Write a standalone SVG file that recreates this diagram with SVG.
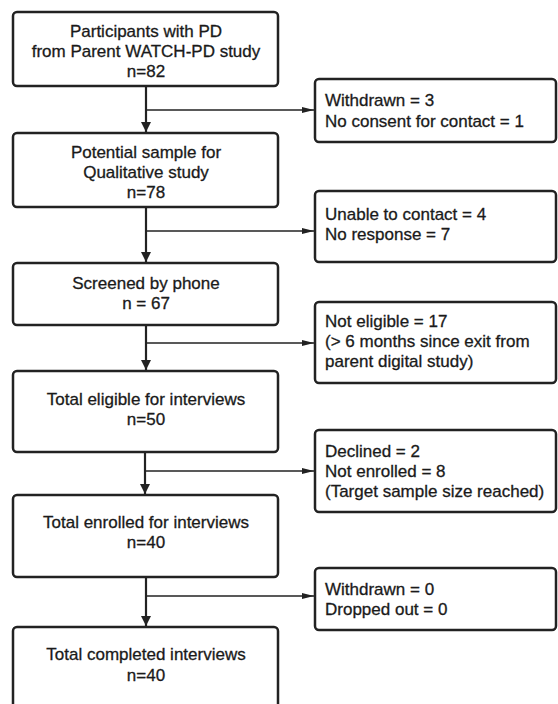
<svg xmlns="http://www.w3.org/2000/svg" width="558" height="704" viewBox="0 0 558 704">
<style>
.box{fill:#fff;stroke:#222;stroke-width:2.5}
.t{font-family:"Liberation Sans",Arial,sans-serif;font-size:17px;fill:#1a1a1a;stroke:#1a1a1a;stroke-width:0.3}
.c{text-anchor:middle}
.trunk{stroke:#222;stroke-width:2.2;fill:none}
.br{stroke:#222;stroke-width:1.5;fill:none}
</style>
<defs>
<marker id="av" markerWidth="10" markerHeight="12" refX="10" refY="6" orient="auto" markerUnits="userSpaceOnUse" viewBox="0 0 10 12">
<path d="M0,1 L10,6 L0,11 Z" fill="#222"/>
</marker>
<marker id="ah" markerWidth="12" markerHeight="8" refX="12" refY="4" orient="auto" markerUnits="userSpaceOnUse" viewBox="0 0 12 8">
<path d="M0,1 L12,4 L0,7 Z" fill="#222"/>
</marker>
</defs>
<g id="connectors">
<line class="trunk" x1="146" y1="87" x2="146" y2="132" marker-end="url(#av)"/>
<line class="br" x1="146" y1="110" x2="314" y2="110" marker-end="url(#ah)"/>
<line class="trunk" x1="146" y1="208" x2="146" y2="262" marker-end="url(#av)"/>
<line class="br" x1="146" y1="231" x2="314" y2="231" marker-end="url(#ah)"/>
<line class="trunk" x1="146" y1="326" x2="146" y2="370" marker-end="url(#av)"/>
<line class="br" x1="146" y1="343" x2="314" y2="343" marker-end="url(#ah)"/>
<line class="trunk" x1="145" y1="453" x2="145" y2="494" marker-end="url(#av)"/>
<line class="br" x1="145" y1="471" x2="314" y2="471" marker-end="url(#ah)"/>
<line class="trunk" x1="146" y1="578" x2="146" y2="626" marker-end="url(#av)"/>
<line class="br" x1="146" y1="596" x2="314" y2="596" marker-end="url(#ah)"/>
</g>
<g id="n1">
<rect class="box" x="13" y="12" width="265" height="74" rx="4"/>
<text class="t c" x="146" y="37">Participants with PD</text>
<text class="t c" x="146" y="57">from Parent WATCH-PD study</text>
<text class="t c" x="146" y="77">n=82</text>
</g>
<g id="n2">
<rect class="box" x="13" y="133" width="265" height="74" rx="4"/>
<text class="t c" x="146" y="158">Potential sample for</text>
<text class="t c" x="146" y="178">Qualitative study</text>
<text class="t c" x="146" y="198">n=78</text>
</g>
<g id="n3">
<rect class="box" x="13" y="263" width="265" height="62" rx="4"/>
<text class="t c" x="146" y="289">Screened by phone</text>
<text class="t c" x="146" y="309">n = 67</text>
</g>
<g id="n4">
<rect class="box" x="13" y="371" width="265" height="81" rx="4"/>
<text class="t c" x="146" y="405">Total eligible for interviews</text>
<text class="t c" x="146" y="425">n=50</text>
</g>
<g id="n5">
<rect class="box" x="13" y="495" width="265" height="82" rx="4"/>
<text class="t c" x="146" y="528">Total enrolled for interviews</text>
<text class="t c" x="146" y="548">n=40</text>
</g>
<g id="n6">
<rect class="box" x="13" y="627" width="265" height="82" rx="4"/>
<text class="t c" x="146" y="660">Total completed interviews</text>
<text class="t c" x="146" y="681">n=40</text>
</g>
<g id="s1">
<rect class="box" x="315" y="79" width="241" height="63" rx="4"/>
<text class="t" x="325" y="106">Withdrawn = 3</text>
<text class="t" x="325" y="127">No consent for contact = 1</text>
</g>
<g id="s2">
<rect class="box" x="315" y="191" width="241" height="71" rx="4"/>
<text class="t" x="325" y="220">Unable to contact = 4</text>
<text class="t" x="325" y="240">No response = 7</text>
</g>
<g id="s3">
<rect class="box" x="315" y="302" width="241" height="81" rx="4"/>
<text class="t" x="325" y="327">Not eligible = 17</text>
<text class="t" x="325" y="347">(&gt; 6 months since exit from</text>
<text class="t" x="325" y="367">parent digital study)</text>
</g>
<g id="s4">
<rect class="box" x="315" y="430" width="241" height="82" rx="4"/>
<text class="t" x="325" y="457">Declined = 2</text>
<text class="t" x="325" y="477">Not enrolled = 8</text>
<text class="t" x="325" y="497">(Target sample size reached)</text>
</g>
<g id="s5">
<rect class="box" x="315" y="568" width="241" height="62" rx="4"/>
<text class="t" x="325" y="595">Withdrawn = 0</text>
<text class="t" x="325" y="615">Dropped out = 0</text>
</g>
</svg>
